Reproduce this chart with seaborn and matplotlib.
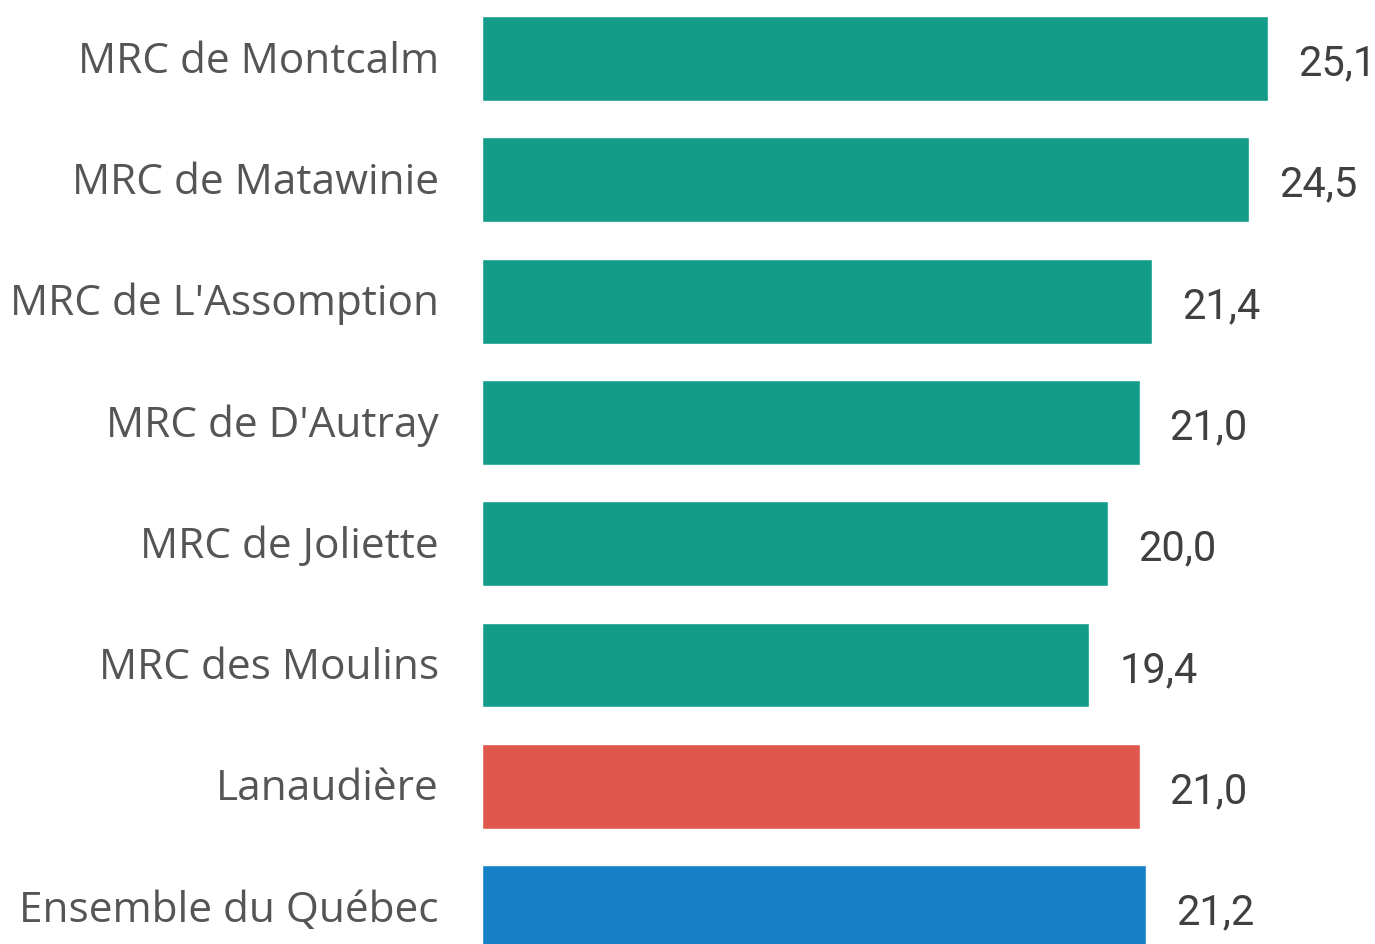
import matplotlib
matplotlib.use("Agg")
import matplotlib.pyplot as plt
import seaborn as sns
import pandas as pd

regions = ["MRC de Montcalm", "MRC de Matawinie", "MRC de L'Assomption",
           "MRC de D'Autray", "MRC de Joliette", "MRC des Moulins",
           "Lanaudière", "Ensemble du Québec"]
values = [25.1, 24.5, 21.4, 21.0, 20.0, 19.4, 21.0, 21.2]
colors = ["#139C8A"] * 6 + ["#E0574B", "#1580C5"]

df = pd.DataFrame({"region": regions, "value": values})

sns.set_style("white")
fig = plt.figure(figsize=(13.75, 9.45), dpi=100)
ax = fig.add_axes([482 / 1375, 0, (1375 - 482) / 1375, 1])

sns.barplot(data=df, y="region", x="value", hue="region", palette=colors,
            legend=False, width=0.70, saturation=1, ax=ax, orient="h")

ax.set_xlim(0, (1375 - 482) / 31.31)
ax.set_ylim(7.30, -0.49)
ax.set_xticks([])
ax.set_yticks([])
ax.set_xlabel("")
ax.set_ylabel("")
sns.despine(ax=ax, left=True, bottom=True)

for i, (name, v) in enumerate(zip(regions, values)):
    ax.annotate(name, xy=(0, i), xytext=(-31, -9.5), textcoords="offset points",
                ha="right", va="baseline", fontsize=30.5, color="#555555",
                family="Open Sans", annotation_clip=False)
    ax.annotate(f"{v:.1f}".replace(".", ","), xy=(v, i), xytext=(21.5, -11.5),
                textcoords="offset points", ha="left", va="baseline",
                fontsize=30, color="#404040", family="Roboto",
                annotation_clip=False)

fig.savefig("out.png", dpi=100)
